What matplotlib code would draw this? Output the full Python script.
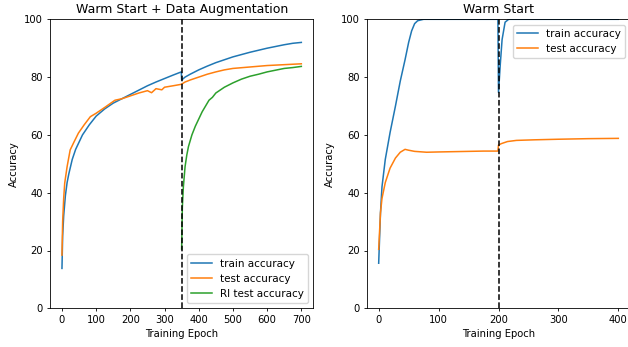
import matplotlib
matplotlib.use("Agg")
from matplotlib import pyplot as plt

# Warm Start + Data Augmentation (left)
aug_train_epochs = [0, 2, 5, 10, 15, 20, 30, 40, 50, 60, 80, 100, 125, 150, 175, 200, 225, 250,
                    275, 300, 325, 349, 350, 360, 375, 400, 425, 450, 475, 500, 525, 550, 575,
                    600, 625, 650, 675, 700]
aug_train_acc = [13.8, 25, 32, 39, 43.5, 46.5, 51.5, 55, 57.5, 60, 63.5, 66.5, 69, 71, 72.5, 74,
                 75.5, 77, 78.3, 79.5, 80.7, 81.8, 79, 80, 81, 82.5, 83.8, 85, 86, 87, 87.8,
                 88.6, 89.3, 90, 90.6, 91.2, 91.7, 92]

aug_test_epochs = [0, 2, 5, 8, 15, 24, 35, 48, 65, 83, 100, 125, 155, 175, 200, 225, 250,
                   262, 275, 292, 300, 325, 349, 360, 375, 400, 425, 450, 475, 500, 550, 600,
                   650, 700]
aug_test_acc = [18.4, 30, 38, 43.3, 49, 54.8, 57.5, 60.6, 63.5, 66.3, 67.5, 69.5, 72, 72.5,
                73.5, 74.5, 75.3, 74.6, 76, 75.6, 76.5, 77, 77.5, 78.3, 79, 80, 81, 81.8, 82.5,
                83, 83.5, 84, 84.3, 84.6]

ri_test_epochs = [350, 352, 355, 360, 365, 370, 380, 390, 400, 410, 420, 430, 440, 450, 475,
                  500, 525, 550, 575, 600, 625, 650, 675, 700]
ri_test_acc = [20.5, 35, 42, 49, 53, 56, 60, 63, 65.5, 68, 70, 72, 73, 74.5, 76.5, 78, 79.3,
               80.3, 81, 81.8, 82.4, 83, 83.3, 83.7]

# Warm Start (right)
ws_train_epochs = [0, 3, 5.5, 11, 19, 28, 36, 44, 50, 55, 60, 65, 75, 100, 150, 199, 200, 203,
                   206, 211, 217, 300, 400]
ws_train_acc = [15.6, 33, 42, 51.5, 60.8, 70, 78.6, 86, 92, 96, 98.5, 99.5, 100, 100, 100, 100,
                74.7, 84.5, 93, 99, 100, 100, 100]

ws_test_epochs = [0, 3, 5.5, 11, 19, 28, 36, 44, 50, 60, 80, 100, 125, 150, 175, 199, 200, 205,
                  215, 230, 260, 300, 350, 400]
ws_test_acc = [20.4, 33, 38, 43.5, 48.5, 52, 54, 55, 54.7, 54.3, 54, 54.1, 54.2, 54.3, 54.4,
               54.4, 56.5, 57, 57.7, 58.1, 58.3, 58.5, 58.7, 58.8]

plt.rcParams['font.size'] = 7.2
plt.rcParams['xtick.major.size'] = 2.5
plt.rcParams['ytick.major.size'] = 2.5
plt.rcParams['xtick.major.width'] = 0.6
plt.rcParams['ytick.major.width'] = 0.6
plt.rcParams['axes.linewidth'] = 0.6
plt.rcParams['xtick.major.pad'] = 2.5
plt.rcParams['ytick.major.pad'] = 2.5

fig = plt.figure(figsize=(6.28, 3.47), dpi=100)
ax1 = fig.add_axes([50 / 628, 38.7 / 347, 263.3 / 628, 289 / 347])
ax2 = fig.add_axes([366.7 / 628, 38.7 / 347, 263.6 / 628, 289 / 347])

lw = 1.1
ax1.plot(aug_train_epochs, aug_train_acc, lw=lw, label='train accuracy')
ax1.plot(aug_test_epochs, aug_test_acc, lw=lw, label='test accuracy')
ax1.plot(ri_test_epochs, ri_test_acc, lw=lw, label='RI test accuracy')
ax1.axvline(350, color='black', linestyle='--', lw=lw)
ax1.set_xlim(-35, 735)
ax1.set_ylim(0, 100)
ax1.set_title('Warm Start + Data Augmentation', fontsize=9, pad=4.5)
ax1.set_xlabel('Training Epoch', labelpad=3)
ax1.set_ylabel('Accuracy', labelpad=4)
ax1.legend(loc='lower right', fontsize=7.5)

ax2.plot(ws_train_epochs, ws_train_acc, lw=lw, label='train accuracy')
ax2.plot(ws_test_epochs, ws_test_acc, lw=lw, label='test accuracy')
ax2.axvline(200, color='black', linestyle='--', lw=lw)
ax2.set_xlim(-20, 420)
ax2.set_ylim(0, 100)
ax2.set_title('Warm Start', fontsize=9, pad=4.5)
ax2.set_xlabel('Training Epoch', labelpad=3)
ax2.set_ylabel('Accuracy', labelpad=4)
ax2.legend(loc='upper right', fontsize=7.5)

fig.savefig('out.png', dpi=100)
